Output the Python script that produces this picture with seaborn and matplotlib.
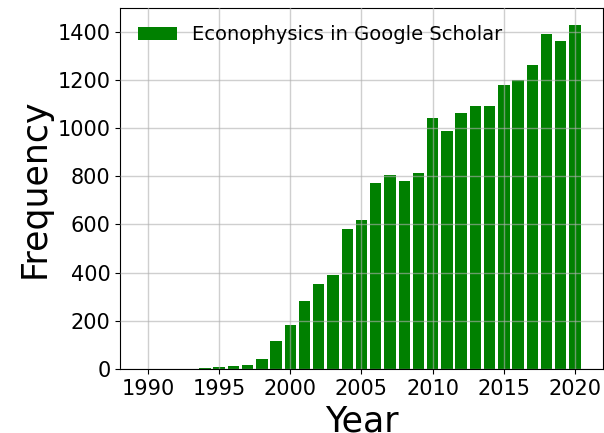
import matplotlib
matplotlib.use("Agg")
import matplotlib.pyplot as plt
import seaborn as sns
import pandas as pd

years = list(range(1990, 2021))
counts = [0, 0, 0, 0, 5, 8, 12, 17, 42, 117, 183, 283, 354, 392, 583, 617,
          771, 804, 779, 812, 1042, 987, 1062, 1092, 1092, 1179, 1200, 1262,
          1392, 1362, 1429]
series_label = "Econophysics in Google Scholar"

df = pd.DataFrame({"Year": years, "Frequency": counts})

plt.rcParams['font.family'] = ['DejaVu Sans']

fig = plt.figure(figsize=(6.04, 4.33), dpi=100)
ax = fig.add_axes([0.199, 0.148, 0.799, 0.834])

sns.barplot(data=df, x="Year", y="Frequency", native_scale=True, color="green",
            saturation=1, width=0.8, label=series_label, ax=ax, zorder=1,
            linewidth=0, edgecolor="none")

ax.grid(True, color="#b0b0b0", alpha=0.6, linewidth=1.0, zorder=1.5)
ax.set_axisbelow(False)
for s in ax.spines.values():
    s.set_visible(True)
    s.set_color("black")
    s.set_linewidth(0.8)

ax.set_xticks([1990, 1995, 2000, 2005, 2010, 2015, 2020])
ax.set_yticks(range(0, 1401, 200))
ax.set_xlim(1988.05, 2021.95)
ax.set_ylim(0, 1500)
ax.tick_params(axis="both", labelsize=15, length=3.5, width=0.8, direction="out",
               bottom=True, left=True, colors="black")
ax.set_xlabel("Year", fontsize=25, color="black")
ax.set_ylabel("Frequency", fontsize=25, color="black")
ax.legend(loc="upper left", frameon=False, fontsize=14)

fig.savefig("out.png", dpi=100)
